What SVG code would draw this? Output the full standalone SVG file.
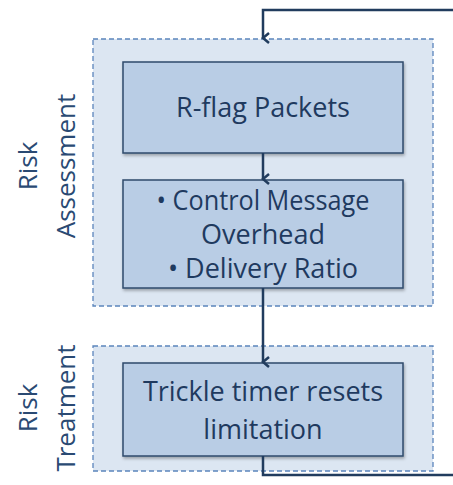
<svg xmlns="http://www.w3.org/2000/svg" width="453" height="485" viewBox="0 0 453 485">
<style>
.outer{fill:#DCE6F2;stroke:#5B85BC;stroke-width:1.3;stroke-dasharray:5 3}
.inner{fill:#B9CDE5;stroke:#2F4A6B;stroke-width:1.5}
.t{font-family:"Open Sans","Liberation Sans",sans-serif;font-size:27px;fill:#1F3A5F;text-anchor:middle}
.side{font-family:"Open Sans","Liberation Sans",sans-serif;font-size:26px;fill:#2A4A73;text-anchor:middle}
.c{fill:none;stroke:#213C5E;stroke-width:2.5}
</style>
<defs>
<marker id="ah" markerWidth="12" markerHeight="12" refX="6" refY="10" orient="auto" markerUnits="userSpaceOnUse" viewBox="0 0 12 12">
<polyline points="1,4 6,10 11,4" fill="none" stroke="#213C5E" stroke-width="2.5"/>
</marker>
<filter id="sh" x="-10%" y="-10%" width="120%" height="130%">
<feDropShadow dx="1" dy="2" stdDeviation="1.5" flood-color="#000" flood-opacity="0.3"/>
</filter>
</defs>
<g id="assessment-group">
<rect class="outer" x="93" y="39" width="340" height="267"/>
<text class="side" transform="translate(37,166) rotate(-90)">Risk</text>
<text class="side" transform="translate(75,166) rotate(-90)">Assessment</text>
</g>
<g id="treatment-group">
<rect class="outer" x="93" y="346" width="340" height="125"/>
<text class="side" transform="translate(37,408) rotate(-90)">Risk</text>
<text class="side" transform="translate(75,408) rotate(-90)">Treatment</text>
</g>
<g id="rflag">
<rect class="inner" x="123" y="62" width="280" height="91" filter="url(#sh)"/>
<text class="t" x="263" y="117">R-flag Packets</text>
</g>
<g id="metrics">
<rect class="inner" x="123" y="180" width="280" height="108" filter="url(#sh)"/>
<text class="t" x="263" y="210" textLength="213" lengthAdjust="spacingAndGlyphs">• Control Message</text>
<text class="t" x="263" y="244">Overhead</text>
<text class="t" x="263" y="278">• Delivery Ratio</text>
</g>
<g id="trickle">
<rect class="inner" x="123" y="363" width="280" height="93" filter="url(#sh)"/>
<text class="t" x="263" y="401">Trickle timer resets</text>
<text class="t" x="263" y="439">limitation</text>
</g>
<g id="connectors">
<polyline class="c" points="453,10 263,10 263,38" marker-end="url(#ah)"/>
<line class="c" x1="263" y1="153" x2="263" y2="179" marker-end="url(#ah)"/>
<line class="c" x1="263" y1="288" x2="263" y2="362" marker-end="url(#ah)"/>
<polyline class="c" points="263,456 263,475 453,475"/>
</g>
</svg>
